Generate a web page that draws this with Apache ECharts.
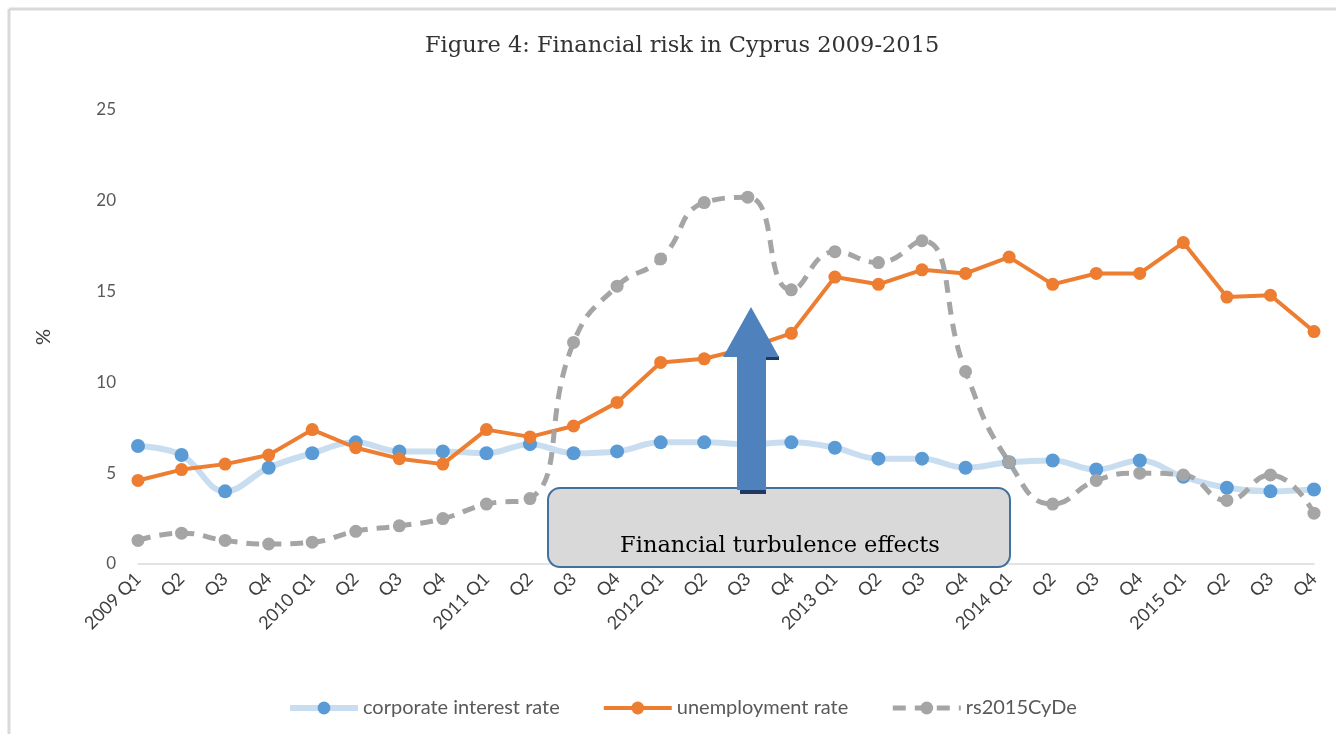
<!DOCTYPE html>
<html>
<head>
<meta charset="utf-8">
<script src="https://cdn.jsdelivr.net/npm/echarts@6/dist/echarts.min.js"></script>
<style>
  html, body { margin: 0; padding: 0; background: #fff; }
  #chart { width: 1336px; height: 734px; }
</style>
</head>
<body>
<div id="chart"></div>
<script>
const quarters = ['2009 Q1', 'Q2', 'Q3', 'Q4', '2010 Q1', 'Q2', 'Q3', 'Q4', '2011 Q1', 'Q2', 'Q3', 'Q4',
  '2012 Q1', 'Q2', 'Q3', 'Q4', '2013 Q1', 'Q2', 'Q3', 'Q4', '2014 Q1', 'Q2', 'Q3', 'Q4', '2015 Q1', 'Q2', 'Q3', 'Q4']
const corporateRate = [6.5, 6.0, 4.0, 5.3, 6.1, 6.7, 6.2, 6.2, 6.1, 6.6, 6.1, 6.2,
  6.7, 6.7, 6.6, 6.7, 6.4, 5.8, 5.8, 5.3, 5.6, 5.7, 5.2, 5.7, 4.8, 4.2, 4.0, 4.1]
const unemploymentRate = [4.6, 5.2, 5.5, 6.0, 7.4, 6.4, 5.8, 5.5, 7.4, 7.0, 7.6, 8.9,
  11.1, 11.3, 11.9, 12.7, 15.8, 15.4, 16.2, 16.0, 16.9, 15.4, 16.0, 16.0, 17.7, 14.7, 14.8, 12.8]
const rs2015 = [1.3, 1.7, 1.3, 1.1, 1.2, 1.8, 2.1, 2.5, 3.3, 3.6, 12.2, 15.3,
  16.8, 19.9, 20.2, 15.1, 17.2, 16.6, 17.8, 10.6, 5.6, 3.3, 4.6, 5.0, 4.9, 3.5, 4.9, 2.8]
const yTicks = [0, 5, 10, 15, 20, 25]

const labelFont = 'Lato, "Open Sans", sans-serif'
const serifFont = '"DejaVu Serif", "Liberation Serif", serif'

const chart = echarts.init(document.getElementById('chart'))
chart.setOption({
  backgroundColor: '#fff',
  animation: false,
  title: {
    text: 'Figure 4: Financial risk in Cyprus 2009-2015',
    left: 420,
    top: 30,
    textStyle: { fontFamily: serifFont, fontSize: 22.5, fontWeight: 'normal', color: '#333' },
  },
  grid: { left: 138, right: 22, top: 110, bottom: 170 },
  legend: {
    left: 282,
    top: 693,
    itemWidth: 68,
    itemHeight: 16,
    itemGap: 42,
    textStyle: { fontFamily: labelFont, fontSize: 20, color: '#595959' },
    data: [
      { name: 'corporate interest rate', lineStyle: { width: 6 } },
      { name: 'unemployment rate', lineStyle: { width: 4 } },
      { name: 'rs2015CyDe', lineStyle: { width: 5 } },
    ],
  },
  xAxis: {
    type: 'category',
    data: quarters,
    boundaryGap: false,
    axisLine: { lineStyle: { color: '#d9d9d9', width: 1.5 } },
    axisTick: { show: false },
    axisLabel: {
      rotate: 45,
      interval: 0,
      margin: 12,
      fontFamily: labelFont,
      fontSize: 18,
      color: '#404040',
    },
  },
  yAxis: {
    type: 'value',
    min: yTicks[0],
    max: yTicks[yTicks.length - 1],
    interval: 5,
    name: '%',
    nameLocation: 'middle',
    nameGap: 84,
    nameRotate: 90,
    nameTextStyle: { fontFamily: labelFont, fontSize: 20, color: '#404040' },
    axisLine: { show: false },
    axisTick: { show: false },
    splitLine: { show: false },
    axisLabel: { margin: 22, fontFamily: labelFont, fontSize: 17, color: '#595959' },
  },
  series: [
    {
      name: 'corporate interest rate',
      type: 'line',
      data: corporateRate,
      smooth: 0.4,
      symbol: 'circle',
      symbolSize: 14,
      itemStyle: { color: '#5b9bd5' },
      lineStyle: { color: '#c9ddf0', width: 6 },
    },
    {
      name: 'unemployment rate',
      type: 'line',
      data: unemploymentRate,
      symbol: 'circle',
      symbolSize: 13,
      itemStyle: { color: '#ed7d31' },
      lineStyle: { color: '#ed7d31', width: 4 },
    },
    {
      name: 'rs2015CyDe',
      type: 'line',
      data: rs2015,
      smooth: 0.5,
      symbol: 'circle',
      symbolSize: 13,
      itemStyle: { color: '#a5a5a5' },
      lineStyle: { color: '#a5a5a5', width: 5, type: [13, 9] },
    },
  ],
  graphic: [
    // picture frame
    { type: 'line', shape: { x1: 9, y1: 9, x2: 1336, y2: 9 }, style: { stroke: '#d9d9d9', lineWidth: 3 } },
    { type: 'line', shape: { x1: 9, y1: 9, x2: 9, y2: 734 }, style: { stroke: '#d9d9d9', lineWidth: 3 } },
    // annotation box
    {
      type: 'rect',
      z: 100,
      shape: { x: 548, y: 488, width: 462, height: 79, r: 12 },
      style: { fill: '#d9d9d9', stroke: '#41719c', lineWidth: 2 },
    },
    {
      type: 'text',
      z: 101,
      x: 780,
      y: 546,
      style: {
        text: 'Financial turbulence effects',
        fontFamily: serifFont,
        fontSize: 22.5,
        fill: '#000',
        align: 'center',
        verticalAlign: 'middle',
      },
    },
    // arrow shadow and arrow
    {
      type: 'polygon',
      z: 101,
      shape: { points: [[740, 356], [779, 356], [779, 360], [740, 360], [740, 494], [766, 494], [766, 489], [740, 489]] },
      style: { fill: '#1f3864' },
    },
    {
      type: 'polygon',
      z: 102,
      shape: { points: [[751, 307], [779, 357], [766, 357], [766, 490], [737, 490], [737, 357], [723, 357]] },
      style: { fill: '#4f81bd' },
    },
  ],
})
</script>
</body>
</html>
